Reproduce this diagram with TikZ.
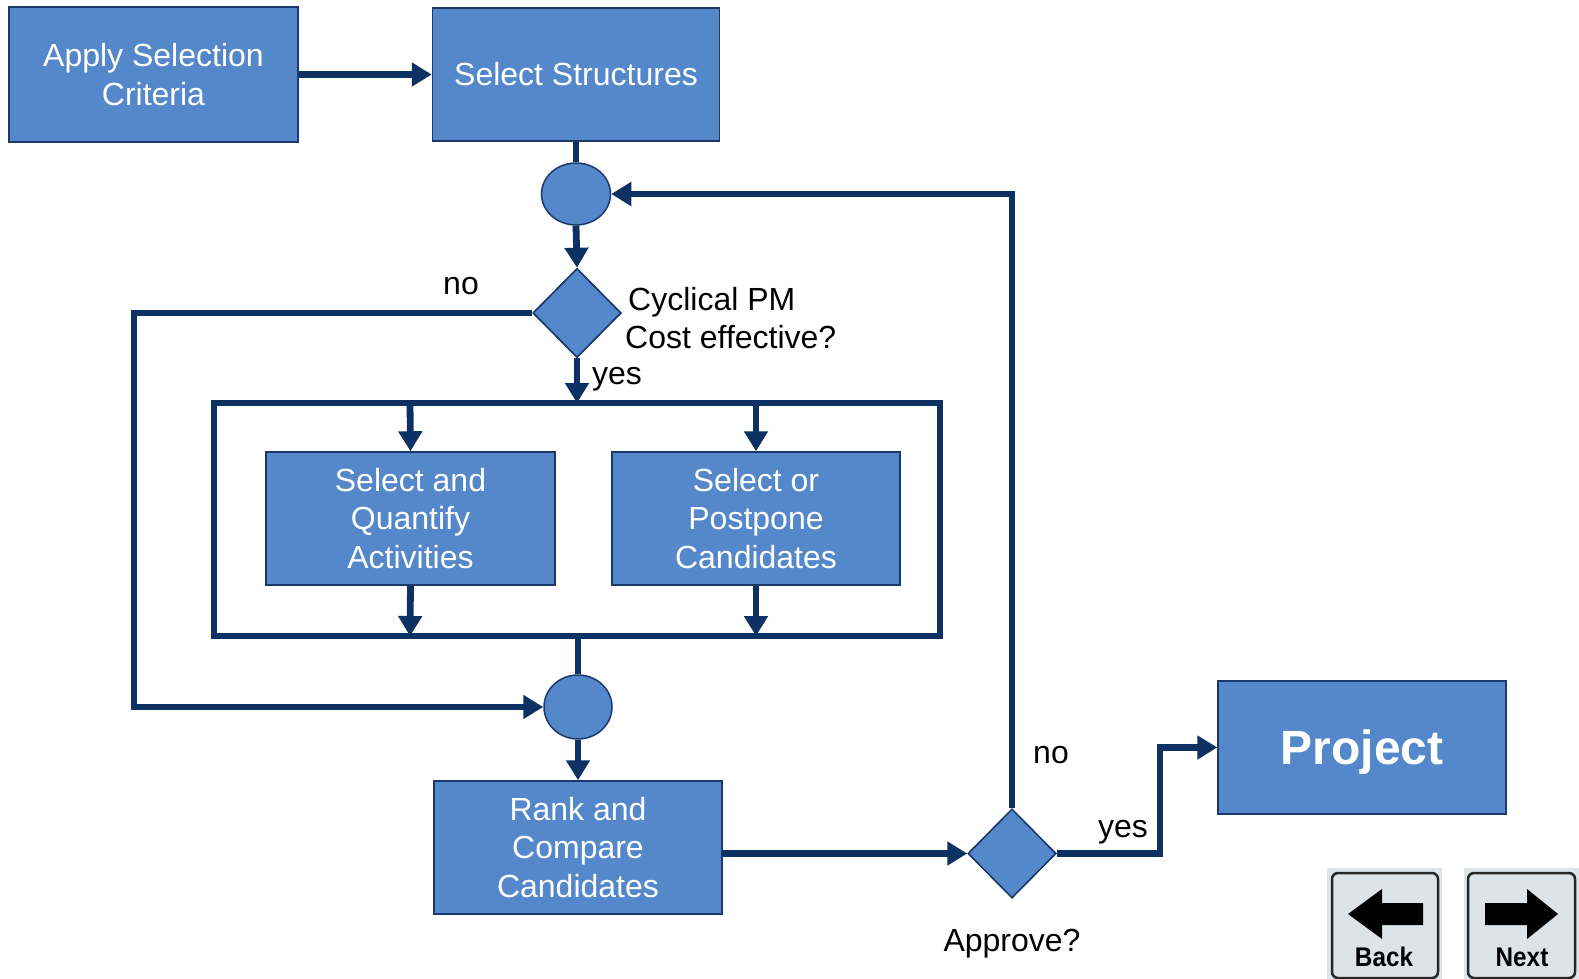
\documentclass[tikz,border=0pt]{standalone}
\usepackage{fontspec}
\setmainfont{Liberation Sans}
\usetikzlibrary{shapes.geometric,arrows.meta}
\definecolor{boxfill}{RGB}{84,136,202}
\definecolor{navy}{RGB}{14,49,99}
\definecolor{boxline}{RGB}{27,58,107}
\definecolor{btnbg}{RGB}{220,228,232}
\tikzset{
  blk/.style={rectangle,draw=boxline,line width=1.5pt,fill=boxfill,text=white,align=center,inner sep=0pt,
    font=\fontsize{32}{38.3}\selectfont},
  junc/.style={ellipse,draw=boxline,line width=1.5pt,fill=boxfill,inner sep=0pt},
  dec/.style={diamond,draw=boxline,line width=1.5pt,fill=boxfill,inner sep=0pt,minimum width=88pt,minimum height=89pt},
  conn/.style={draw=navy,line width=6.8pt,line join=miter},
  arr/.style={conn,-{Triangle[length=20pt,width=23pt]}},
  lbl/.style={text=black,inner sep=0pt,font=\fontsize{32}{38.3}\selectfont},
  btn/.style={draw=black!85,line width=2.5pt,rounded corners=6pt,fill=btnbg},
  btntxt/.style={inner sep=0pt,font=\fontsize{27}{30}\selectfont\bfseries,xscale=0.9}
}
\begin{document}
\begin{tikzpicture}[x=1pt,y=-1pt]
\fill[white] (0,0) rectangle (1579,979);
\useasboundingbox (0,0) rectangle (1579,979);

% nodes
\node[blk,minimum width=289pt,minimum height=135pt] (apply) at (153.5,74.5) {Apply Selection\\Criteria};
\node[blk,minimum width=287pt,minimum height=133pt] (sel) at (576,74.5) {Select Structures};
\node[junc,minimum width=69pt,minimum height=62pt] (c1) at (576,194) {};
\node[dec] (d1) at (577,313) {};
\node[blk,minimum width=289pt,minimum height=133pt] (b1) at (410.5,518.5) {Select and\\Quantify\\Activities};
\node[blk,minimum width=288pt,minimum height=133pt] (b2) at (756,518.5) {Select or\\Postpone\\Candidates};
\node[junc,minimum width=68pt,minimum height=64pt] (c2) at (578,707) {};
\node[blk,minimum width=288pt,minimum height=133pt] (rank) at (578,847.5) {Rank and\\Compare\\Candidates};
\node[dec] (d2) at (1012,853.5) {};
\node[blk,minimum width=288pt,minimum height=133pt,text depth=0pt,font=\fontsize{48}{56}\selectfont\bfseries] (proj) at (1362,747.5) {Project};

% outer frame
\draw[conn] (214,403) rectangle (940,636);
\coordinate (ftop) at (577,403);
\coordinate (fl1) at (410,403);
\coordinate (fl2) at (756,403);
\coordinate (fb1) at (410,636);
\coordinate (fb2) at (756,636);
\coordinate (fbot) at (578,636);
\coordinate (nol) at (134,313);
\coordinate (nob) at (134,707);
\coordinate (apr) at (1012,194);
\coordinate (ys1) at (1160,853.5);
\coordinate (ys2) at (1160,747.5);

% connectors
\draw[arr] (apply.east) -- (sel.west);
\draw[conn] (sel.south) -- (c1.north);
\draw[arr] (c1.south) -- (d1.north);
\draw[arr] (d1.south) -- (ftop);
\draw[arr] (fl1) -- (b1.north);
\draw[arr] (fl2) -- (b2.north);
\draw[arr] (b1.south) -- (fb1);
\draw[arr] (b2.south) -- (fb2);
\draw[conn] (fbot) -- (c2.north);
\draw[arr] (d1.west) -- (nol) -- (nob) -- (c2.west);
\draw[arr] (c2.south) -- (rank.north);
\draw[arr] (rank.east |- d2.west) -- (d2.west);
\draw[arr] (d2.north) -- (apr) -- (c1.east);
\draw[arr] (d2.east) -- (ys1) -- (ys2) -- (proj.west);

% redraw nodes over lines
\node[dec] at (d1) {};
\node[dec] at (d2) {};

% labels
\node[lbl] (lno1) at (461,286) {no};
\node[lbl,anchor=west,align=left] (lcyc) at (625,318) {\hspace{3pt}Cyclical PM\\Cost effective?};
\node[lbl,anchor=west] (lyes1) at (592,379) {yes};
\node[lbl] (lno2) at (1051,755) {no};
\node[lbl] (lyes2) at (1123,832) {yes};
\node[lbl] (lapp) at (1012,944) {Approve?};

% buttons
\fill[btnbg] (1327,868) rectangle (1442,979);
\fill[btnbg] (1464,868) rectangle (1579,979);
\draw[btn] (1332,873) rectangle (1438,978);
\draw[btn] (1468,873) rectangle (1575,978);
\fill[black] (1348,914) -- (1382,889) -- (1382,903) -- (1423,903) -- (1423,925) -- (1382,925) -- (1382,939) -- cycle;
\fill[black] (1558,914) -- (1527,889) -- (1527,903) -- (1485,903) -- (1485,925) -- (1527,925) -- (1527,939) -- cycle;
\node[btntxt] (tback) at (1384,957) {Back};
\node[btntxt] (tnext) at (1522,957) {Next};
\end{tikzpicture}
\end{document}
